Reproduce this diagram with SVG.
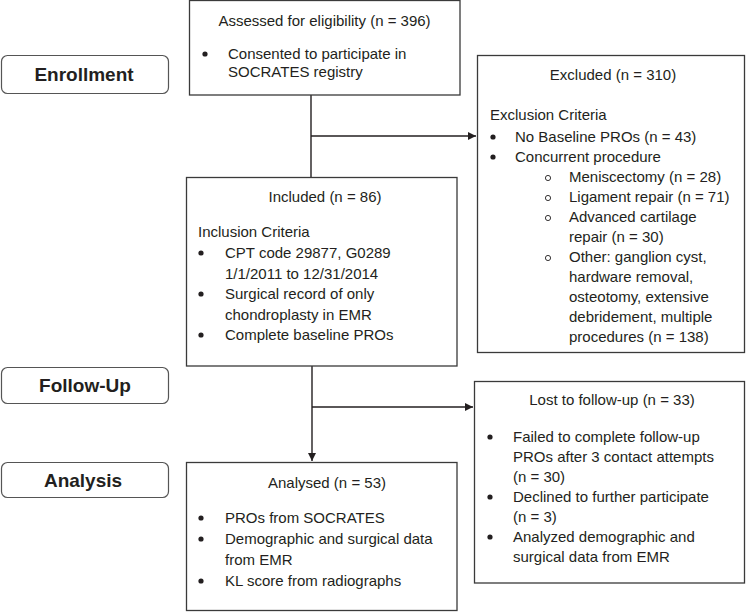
<svg xmlns="http://www.w3.org/2000/svg" width="746" height="612" viewBox="0 0 746 612">
<style>
  .box { fill: #ffffff; stroke: #3a3a3a; stroke-width: 1.3; }
  .stage { fill: #ffffff; stroke: #555555; stroke-width: 1.2; }
  .t { font-family: "Liberation Sans", Arial, sans-serif; font-size: 15px; fill: #231f20; }
  .c { text-anchor: middle; }
  .lbl { font-family: "Liberation Sans", Arial, sans-serif; font-size: 19px; font-weight: bold; fill: #231f20; text-anchor: middle; }
  .dot { fill: #231f20; }
  .ring { fill: none; stroke: #231f20; stroke-width: 0.9; }
  .conn { stroke: #231f20; stroke-width: 1.4; fill: none; }
</style>
<defs>
  <marker id="arr" viewBox="0 0 10 10" refX="10" refY="5" markerWidth="8" markerHeight="8" markerUnits="userSpaceOnUse" orient="auto">
    <path d="M0,0 L10,5 L0,10 z" fill="#231f20"/>
  </marker>
</defs>
<rect width="746" height="612" fill="#ffffff"/>

<g id="stage-enrollment">
  <rect class="stage" x="1.5" y="55.5" width="167" height="38" rx="6"/>
  <text class="lbl" x="84" y="81">Enrollment</text>
</g>
<g id="stage-followup">
  <rect class="stage" x="1.5" y="367.5" width="167" height="36" rx="6"/>
  <text class="lbl" x="85" y="392">Follow-Up</text>
</g>
<g id="stage-analysis">
  <rect class="stage" x="1.5" y="462.5" width="167" height="35" rx="6"/>
  <text class="lbl" x="83" y="487">Analysis</text>
</g>

<g id="connectors">
  <line class="conn" x1="311" y1="95" x2="311" y2="177"/>
  <line class="conn" x1="311" y1="136" x2="476" y2="136" marker-end="url(#arr)"/>
  <line class="conn" x1="312" y1="366" x2="312" y2="461" marker-end="url(#arr)"/>
  <line class="conn" x1="312" y1="407" x2="473" y2="407" marker-end="url(#arr)"/>
</g>

<g id="assessed">
  <rect class="box" x="189.5" y="0.5" width="270.5" height="94.5"/>
  <text class="t c" x="324.5" y="26">Assessed for eligibility (n = 396)</text>
  <circle class="dot" cx="205" cy="54" r="2.6"/>
  <text class="t" x="228" y="59">Consented to participate in</text>
  <text class="t" x="228" y="77">SOCRATES registry</text>
</g>

<g id="excluded">
  <rect class="box" x="477.5" y="55.5" width="267" height="297"/>
  <text class="t c" x="613" y="80">Excluded (n = 310)</text>
  <text class="t" x="490" y="120">Exclusion Criteria</text>
  <circle class="dot" cx="493" cy="137" r="2.6"/>
  <text class="t" x="515" y="142">No Baseline PROs (n = 43)</text>
  <circle class="dot" cx="493" cy="157" r="2.6"/>
  <text class="t" x="515" y="162">Concurrent procedure</text>
  <circle class="ring" cx="548" cy="178" r="2.6"/>
  <text class="t" x="569" y="182">Meniscectomy (n = 28)</text>
  <circle class="ring" cx="548" cy="198" r="2.6"/>
  <text class="t" x="569" y="202">Ligament repair (n = 71)</text>
  <circle class="ring" cx="548" cy="218" r="2.6"/>
  <text class="t" x="569" y="222">Advanced cartilage</text>
  <text class="t" x="569" y="242">repair (n = 30)</text>
  <circle class="ring" cx="548" cy="258" r="2.6"/>
  <text class="t" x="569" y="262">Other: ganglion cyst,</text>
  <text class="t" x="569" y="282">hardware removal,</text>
  <text class="t" x="569" y="302">osteotomy, extensive</text>
  <text class="t" x="569" y="322">debridement, multiple</text>
  <text class="t" x="569" y="342">procedures (n = 138)</text>
</g>

<g id="included">
  <rect class="box" x="186.5" y="177.5" width="270.5" height="188.5"/>
  <text class="t c" x="325" y="202">Included (n = 86)</text>
  <text class="t" x="198" y="237">Inclusion Criteria</text>
  <circle class="dot" cx="201" cy="253" r="2.6"/>
  <text class="t" x="225" y="258">CPT code 29877, G0289</text>
  <text class="t" x="225" y="278.5">1/1/2011 to 12/31/2014</text>
  <circle class="dot" cx="201" cy="294" r="2.6"/>
  <text class="t" x="225" y="299">Surgical record of only</text>
  <text class="t" x="225" y="319.5">chondroplasty in EMR</text>
  <circle class="dot" cx="201" cy="335" r="2.6"/>
  <text class="t" x="225" y="340">Complete baseline PROs</text>
</g>

<g id="lost">
  <rect class="box" x="474.5" y="381.5" width="270" height="201.5"/>
  <text class="t c" x="612" y="405">Lost to follow-up (n = 33)</text>
  <circle class="dot" cx="490" cy="437" r="2.6"/>
  <text class="t" x="513" y="442">Failed to complete follow-up</text>
  <text class="t" x="513" y="462">PROs after 3 contact attempts</text>
  <text class="t" x="513" y="482">(n = 30)</text>
  <circle class="dot" cx="490" cy="497" r="2.6"/>
  <text class="t" x="513" y="502">Declined to further participate</text>
  <text class="t" x="513" y="522">(n = 3)</text>
  <circle class="dot" cx="490" cy="537" r="2.6"/>
  <text class="t" x="513" y="542">Analyzed demographic and</text>
  <text class="t" x="513" y="562">surgical data from EMR</text>
</g>

<g id="analysed">
  <rect class="box" x="186.5" y="462.5" width="270.5" height="148"/>
  <text class="t c" x="327" y="488">Analysed (n = 53)</text>
  <circle class="dot" cx="201" cy="518" r="2.6"/>
  <text class="t" x="225" y="523">PROs from SOCRATES</text>
  <circle class="dot" cx="201" cy="539" r="2.6"/>
  <text class="t" x="225" y="544">Demographic and surgical data</text>
  <text class="t" x="225" y="565">from EMR</text>
  <circle class="dot" cx="201" cy="581" r="2.6"/>
  <text class="t" x="225" y="586">KL score from radiographs</text>
</g>
</svg>
